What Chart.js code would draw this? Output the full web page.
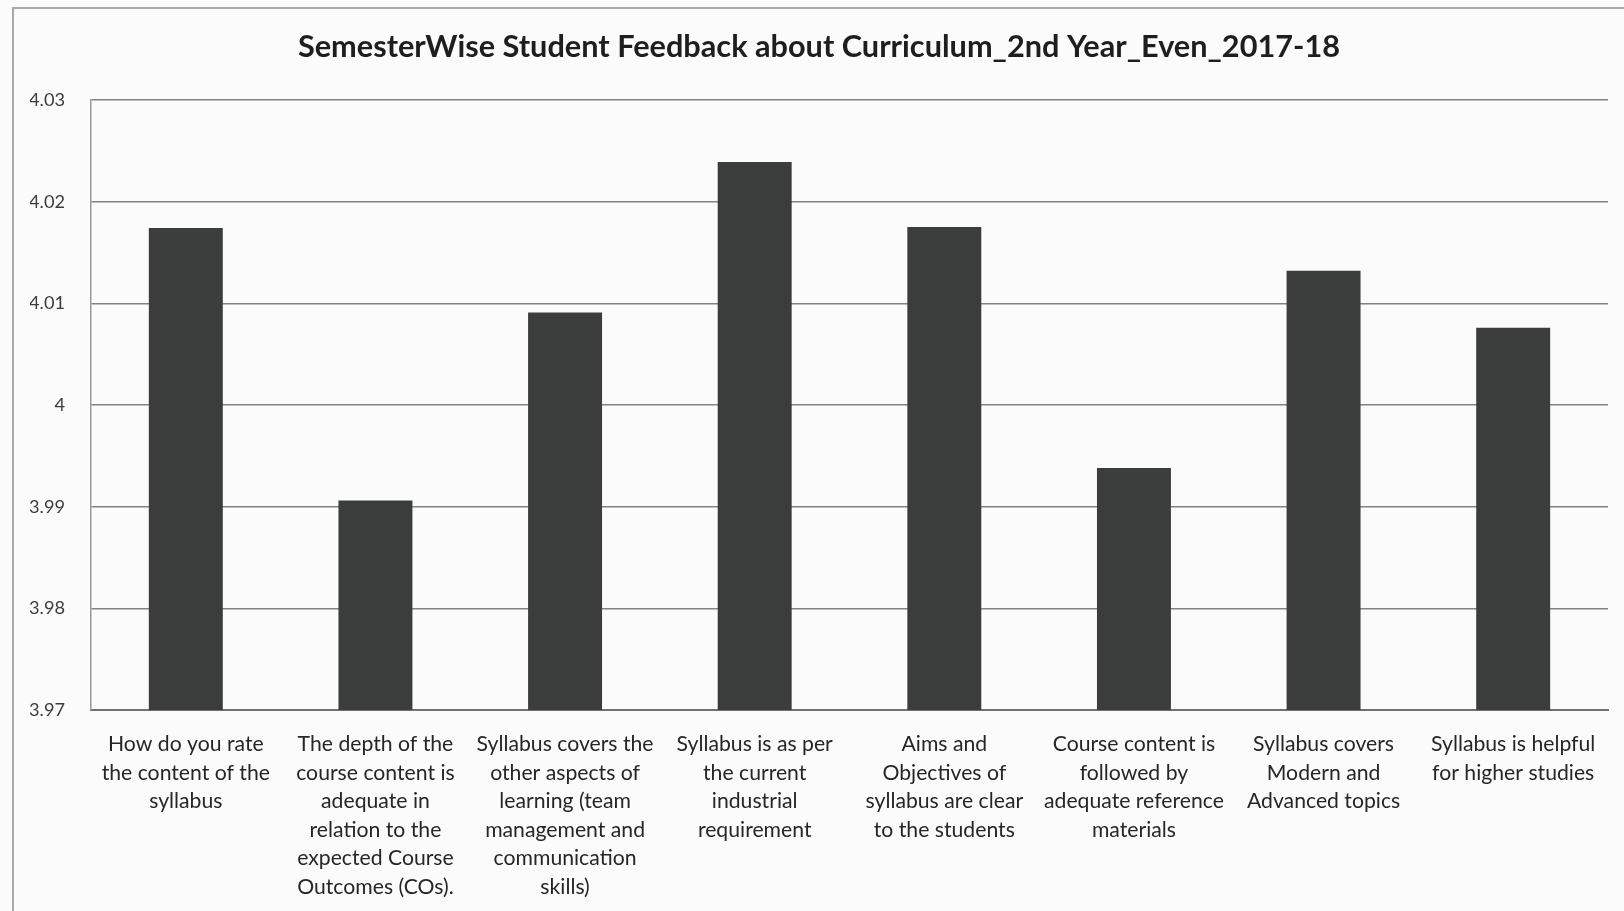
<!DOCTYPE html>
<html>
<head>
<meta charset="utf-8">
<script src="https://cdn.jsdelivr.net/npm/chart.js@4.4.1/dist/chart.umd.min.js"></script>
<style>
  html, body { margin: 0; padding: 0; background: #fbfbfb; }
  #wrap { position: relative; width: 1624px; height: 911px; }
  #frame { position: absolute; left: 12px; top: 7px; right: -4px; bottom: -4px;
           border-left: 2px solid #a9a9a9; border-top: 2px solid #a9a9a9; }
  canvas { position: absolute; left: 0; top: 0; }
</style>
</head>
<body>
<div id="wrap">
  <div id="frame"></div>
  <canvas id="chart" width="1624" height="911"></canvas>
</div>
<script>
const chartTitle = 'SemesterWise Student Feedback about Curriculum_2nd Year_Even_2017-18';

const categories = [
  ['How do you rate', 'the content of the', 'syllabus'],
  ['The depth of the', 'course content is', 'adequate in', 'relation to the', 'expected Course', 'Outcomes (COs).'],
  ['Syllabus covers the', 'other aspects of', 'learning (team', 'management and', 'communication', 'skills)'],
  ['Syllabus is as per', 'the current', 'industrial', 'requirement'],
  ['Aims and', 'Objectives of', 'syllabus are clear', 'to the students'],
  ['Course content is', 'followed by', 'adequate reference', 'materials'],
  ['Syllabus covers', 'Modern and', 'Advanced topics'],
  ['Syllabus is helpful', 'for higher studies']
];

const scores = [4.0174, 3.9906, 4.0091, 4.0239, 4.0175, 3.9938, 4.0132, 4.0076];

const yTickValues = [3.97, 3.98, 3.99, 4.00, 4.01, 4.02, 4.03];
const yTickLabels = ['3.97', '3.98', '3.99', '4', '4.01', '4.02', '4.03'];

// pick a font size so a sample string takes the same width as in the scan
function fitSize(text, weight, family, target) {
  const ctx = document.createElement('canvas').getContext('2d');
  ctx.font = weight + ' 100px ' + family;
  return Math.round(100 * target / ctx.measureText(text).width * 10) / 10;
}

const family = 'Lato, "Open Sans", sans-serif';
const titleSize = fitSize(chartTitle, 'bold', family, 1042);
const xSize = fitSize('How do you rate', 'normal', family, 156);
const ySize = fitSize('4.03', 'normal', family, 36);

const plotLeft = 91, plotTop = 100, plotBottom = 710, padLeft = 30, padRight = 16;

new Chart(document.getElementById('chart'), {
  type: 'bar',
  data: {
    labels: categories,
    datasets: [{
      data: scores,
      backgroundColor: '#3b3d3c',
      borderWidth: 0,
      categoryPercentage: 1,
      barPercentage: 0.39
    }]
  },
  options: {
    responsive: false,
    animation: false,
    layout: { padding: { left: padLeft, right: padRight, top: 0, bottom: 0 } },
    plugins: {
      legend: { display: false },
      tooltip: { enabled: false },
      title: {
        display: true,
        text: chartTitle,
        color: '#1e1e1e',
        font: { family: family, size: titleSize, weight: 'bold' },
        padding: { top: 47 - titleSize * 0.6, bottom: plotTop - 47 - titleSize * 0.6 }
      }
    },
    scales: {
      x: {
        grid: { display: false, drawTicks: false },
        border: { display: true, color: '#707070', width: 2 },
        ticks: {
          color: '#262626',
          font: { family: family, size: xSize, lineHeight: 28.5 / xSize },
          padding: 20,
          maxRotation: 0,
          autoSkip: false
        },
        afterFit: (scale) => { scale.height = 911 - plotBottom; }
      },
      y: {
        min: 3.97,
        max: 4.03,
        grid: { color: '#828282', lineWidth: 1.5, drawTicks: false },
        border: { display: true, color: '#9a9a9a', width: 1.5 },
        afterBuildTicks: (scale) => {
          scale.ticks = yTickValues.map(v => ({ value: v }));
        },
        ticks: {
          color: '#3c3c3c',
          font: { family: family, size: ySize },
          padding: 26,
          callback: (value, i) => yTickLabels[i]
        },
        afterFit: (scale) => { scale.width = plotLeft - padLeft; }
      }
    }
  }
});
</script>
</body>
</html>
